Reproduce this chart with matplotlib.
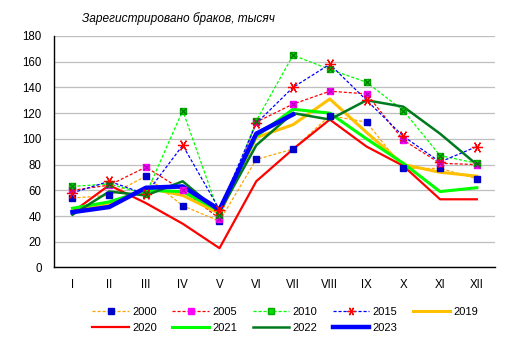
# Registered marriages by month, thousands (line chart, several years)
import matplotlib
matplotlib.use("Agg")
import matplotlib.pyplot as plt
from matplotlib.lines import Line2D

plt.rcParams['font.family'] = ['Liberation Sans', 'DejaVu Sans']

months = ["I", "II", "III", "IV", "V", "VI", "VII", "VIII", "IX", "X", "XI", "XII"]
yticks = [0, 20, 40, 60, 80, 100, 120, 140, 160, 180]

y2000 = [54, 56, 71, 48, 36, 84, 92, 118, 113, 77, 77, 69]
y2005 = [60, 64, 78, 60, 38, 113, 127, 137, 135, 99, 81, 80]
y2010 = [63, 65, 57, 122, 41, 114, 165, 154, 144, 122, 87, 81]
y2015 = [58, 67, 57, 95, 45, 112, 140, 158, 130, 102, 82, 94]
y2019 = [44, 49, 62, 56, 42, 101, 111, 131, 105, 80, 74, 71]
y2020 = [43, 64, 50, 34, 15, 67, 92, 115, 94, 79, 53, 53]
y2021 = [46, 51, 60, 59, 44, 102, 123, 120, 100, 81, 59, 62]
y2022 = [41, 59, 56, 67, 43, 95, 120, 115, 130, 125, 104, 80]
y2023 = [43, 47, 62, 63, 45, 104, 119]

x = list(range(len(months)))

fig = plt.figure(figsize=(5.1, 3.39), dpi=100)
ax = fig.add_axes([0.106, 0.211, 0.865, 0.683])

dash = (0, (2.5, 1.5))

# dashed series with markers
ax.plot(x, y2000, color="#FFA500", lw=0.9, ls=dash, zorder=2)
ax.plot(x, y2005, color="#FF0000", lw=0.9, ls=dash, zorder=2)
ax.plot(x, y2010, color="#00FF00", lw=0.9, ls=dash, zorder=2)
ax.plot(x, y2015, color="#0000FF", lw=0.9, ls=dash, zorder=2)

# solid series
ax.plot(x, y2019, color="#FFC000", lw=2.2, zorder=3)
ax.plot(x, y2020, color="#FF0000", lw=1.6, zorder=3)
ax.plot(x, y2021, color="#00FF00", lw=2.2, zorder=3)
ax.plot(x, y2022, color="#007A1E", lw=1.8, zorder=3)
ax.plot(x[:len(y2023)], y2023, color="#0000FF", lw=3.2, zorder=4)

# markers on top
ax.plot(x, y2000, ls="none", marker="s", ms=5, mfc="#0000CC", mec="#0000CC", zorder=6)
ax.plot(x, y2005, ls="none", marker="s", ms=5, mfc="#FF00FF", mec="#FF00FF", zorder=6)
ax.plot(x, y2005, ls="none", marker="x", ms=4.5, mew=0.8, color="#B000B0", zorder=7)
ax.plot(x, y2010, ls="none", marker="s", ms=5, mfc="#00DD00", mec="#00AA00", zorder=6)
ax.plot(x, y2010, ls="none", marker="x", ms=4.5, mew=0.8, color="#007000", zorder=7)
star = (6, 2, 90)
ax.plot(x, y2015, ls="none", marker=star, ms=8, mew=0.9, color="#FF0000", zorder=6)

ax.set_xlim(-0.5, 11.5)
ax.set_ylim(0, 180)
ax.set_yticks(yticks)
ax.set_xticks(x)
ax.set_xticklabels(months)
ax.tick_params(axis="both", length=0, labelsize=8.3, colors="black")
ax.tick_params(axis="y", pad=9)
ax.tick_params(axis="x", pad=8)
ax.grid(axis="y", color="#BFBFBF", lw=0.9)
ax.set_axisbelow(True)
for s in ["top", "right"]:
    ax.spines[s].set_visible(False)
ax.spines["left"].set_linewidth(1.0)
ax.spines["bottom"].set_linewidth(1.0)

fig.text(0.161, 0.944, "Зарегистрировано браков, тысяч", fontsize=8.6,
         style="italic", ha="left", va="center")

# legend, reordered so it fills row by row
h2000 = Line2D([], [], color="#FFA500", lw=0.9, ls=dash, marker="s", ms=4, mfc="#0000CC", mec="#0000CC")
h2005 = Line2D([], [], color="#FF0000", lw=0.9, ls=dash, marker="s", ms=4, mfc="#FF00FF", mec="#FF00FF")
h2010 = Line2D([], [], color="#00FF00", lw=0.9, ls=dash, marker="s", ms=4, mfc="#00DD00", mec="#00AA00")
h2015 = Line2D([], [], color="#0000FF", lw=0.9, ls=dash, marker=star, ms=6, mec="#FF0000", mew=0.9)
h2019 = Line2D([], [], color="#FFC000", lw=2.2)
h2020 = Line2D([], [], color="#FF0000", lw=1.6)
h2021 = Line2D([], [], color="#00FF00", lw=2.2)
h2022 = Line2D([], [], color="#007A1E", lw=1.8)
h2023 = Line2D([], [], color="#0000FF", lw=3.2)

handles = [h2000, h2020, h2005, h2021, h2010, h2022, h2015, h2023, h2019]
labels = ["2000", "2020", "2005", "2021", "2010", "2022", "2015", "2023", "2019"]
fig.legend(handles, labels, loc="upper left", bbox_to_anchor=(0.181, 0.094),
           ncol=5, frameon=False, fontsize=8, handlelength=3.3,
           handletextpad=0.3, columnspacing=1.38, labelspacing=0.5,
           borderpad=0, borderaxespad=0)

fig.savefig("out.png", dpi=100)
